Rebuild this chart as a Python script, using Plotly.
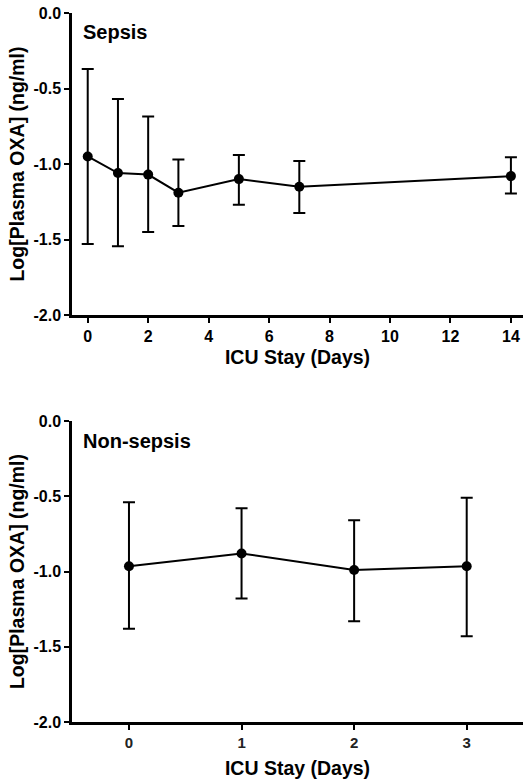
import plotly.graph_objects as go
from plotly.subplots import make_subplots

# Sepsis panel
sepsis_days = [0, 1, 2, 3, 5, 7, 14]
sepsis_mean = [-0.95, -1.06, -1.07, -1.19, -1.10, -1.15, -1.08]
sepsis_upper = [-0.37, -0.57, -0.685, -0.97, -0.94, -0.98, -0.955]
sepsis_lower = [-1.53, -1.545, -1.45, -1.41, -1.27, -1.325, -1.195]

# Non-sepsis panel
nonsepsis_days = [0, 1, 2, 3]
nonsepsis_mean = [-0.965, -0.88, -0.99, -0.965]
nonsepsis_upper = [-0.54, -0.58, -0.66, -0.51]
nonsepsis_lower = [-1.38, -1.18, -1.33, -1.43]

y_ticks = [0.0, -0.5, -1.0, -1.5, -2.0]
y_ticktext = ["0.0", "-0.5", "-1.0", "-1.5", "-2.0"]
top_x_ticks = [0, 2, 4, 6, 8, 10, 12, 14]
bottom_x_ticks = [0, 1, 2, 3]

panel_titles = ["Sepsis", "Non-sepsis"]
x_title = "ICU Stay (Days)"
y_title = "Log[Plasma OXA] (ng/ml)"

FONT = "Liberation Sans, Arial, sans-serif"

fig = make_subplots(rows=2, cols=1, vertical_spacing=0.15)


def add_series(days, mean, upper, lower, row):
    plus = [u - m for u, m in zip(upper, mean)]
    minus = [m - l for m, l in zip(mean, lower)]
    fig.add_trace(
        go.Scatter(
            x=days, y=mean, mode="lines+markers",
            line=dict(color="black", width=2),
            marker=dict(color="black", size=10),
            error_y=dict(type="data", symmetric=False, array=plus, arrayminus=minus,
                         color="black", thickness=2, width=6),
            showlegend=False,
        ),
        row=row, col=1,
    )


add_series(sepsis_days, sepsis_mean, sepsis_upper, sepsis_lower, 1)
add_series(nonsepsis_days, nonsepsis_mean, nonsepsis_upper, nonsepsis_lower, 2)

axis_common = dict(
    showline=True, linecolor="black", linewidth=2.5, ticks="outside", ticklen=5,
    tickwidth=2, tickcolor="black", showgrid=False, zeroline=False,
    tickfont=dict(family=FONT, size=16, color="black", weight="bold"),
)

fig.update_xaxes(**axis_common)
fig.update_yaxes(**axis_common)

title_font = dict(family=FONT, size=19.5, color="black", weight="bold")

fig.update_xaxes(range=[-0.52, 14.4], tickvals=top_x_ticks, row=1, col=1,
                 title=dict(text=x_title, standoff=7, font=title_font))
fig.update_xaxes(range=[-0.506, 3.5], tickvals=bottom_x_ticks, row=2, col=1,
                 tickfont=dict(size=15, weight="bold", color="#222"),
                 title=dict(text=x_title, standoff=12, font=title_font))
for r in (1, 2):
    fig.update_yaxes(range=[-2.0, 0.0], tickvals=y_ticks, ticktext=y_ticktext,
                     title=dict(text=y_title, standoff=4, font=title_font),
                     row=r, col=1)

fig.update_layout(
    yaxis=dict(domain=[0.574, 1.0]),
    yaxis2=dict(domain=[0.0, 0.4245]),
)

fig.add_annotation(text=panel_titles[0], x=0.021, y=0.991, xref="paper", yref="paper",
                   xanchor="left", yanchor="top", showarrow=False,
                   font=dict(family=FONT, size=20, color="black", weight="bold"))
fig.add_annotation(text=panel_titles[1], x=0.021, y=0.414, xref="paper", yref="paper",
                   xanchor="left", yanchor="top", showarrow=False,
                   font=dict(family=FONT, size=20, color="black", weight="bold"))

fig.update_layout(
    width=523, height=779,
    margin=dict(l=72, r=0, t=13, b=57),
    plot_bgcolor="white", paper_bgcolor="white",
    font=dict(family=FONT, color="black"),
)

fig.write_html("out.html", config={"displayModeBar": False},
               post_script="document.body.style.margin='0';")
